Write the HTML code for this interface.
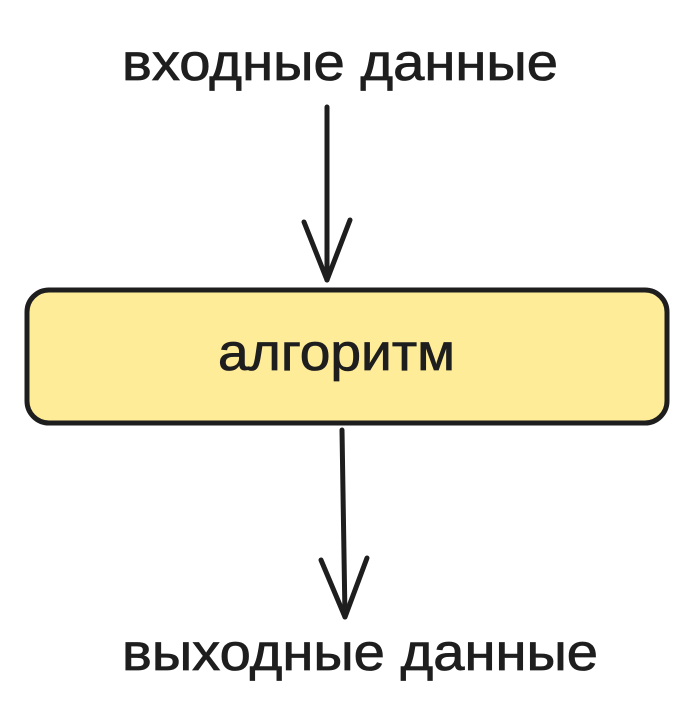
<!DOCTYPE html>
<html><head><meta charset="utf-8"><style>
html,body{margin:0;padding:0;background:#fff;width:694px;height:715px;overflow:hidden}
</style></head><body>
<svg width="694" height="715" viewBox="0 0 694 715" xmlns="http://www.w3.org/2000/svg">
<g font-family="'Liberation Sans','DejaVu Sans',sans-serif" fill="#1e1e1e" stroke="#1e1e1e" stroke-width="0.8" font-size="52">
<text x="122" y="80" textLength="436" lengthAdjust="spacingAndGlyphs">входные данные</text>
<text x="122" y="670" textLength="476" lengthAdjust="spacingAndGlyphs">выходные данные</text>
</g>
<rect x="27" y="290" width="640" height="133" rx="22" fill="#ffec99" stroke="#1e1e1e" stroke-width="5"/>
<g stroke="#1e1e1e" stroke-width="5" fill="none" stroke-linecap="round" stroke-linejoin="round">
<path d="M327 107 L327 280"/>
<path d="M304 222 L327 280 L350 220"/>
<path d="M342 430 L345 617"/>
<path d="M321 560 L345 617 L367 558"/>
</g>
<g font-family="'Liberation Sans','DejaVu Sans',sans-serif" fill="#1e1e1e" stroke="#1e1e1e" stroke-width="0.8" font-size="52">
<text x="218" y="370" textLength="237" lengthAdjust="spacingAndGlyphs">алгоритм</text>
</g>
</svg>
</body></html>
